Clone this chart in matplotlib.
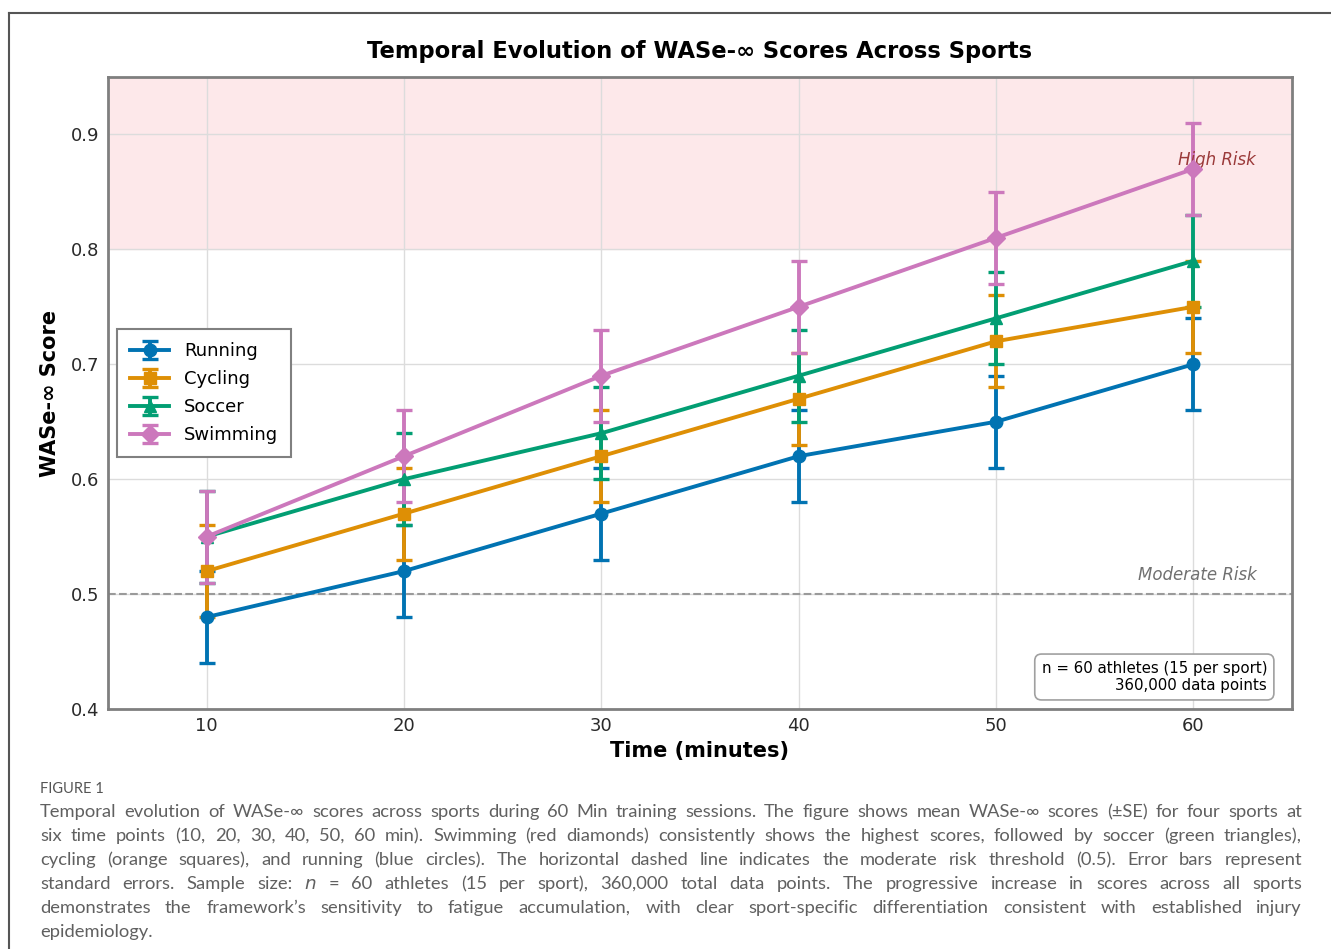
import numpy as np
import matplotlib
matplotlib.use("Agg")
import matplotlib.pyplot as plt
from matplotlib.lines import Line2D

# --- Data ---
times = [10, 20, 30, 40, 50, 60]
sports = ["Running", "Cycling", "Soccer", "Swimming"]
running = [0.48, 0.52, 0.57, 0.62, 0.65, 0.70]
cycling = [0.52, 0.57, 0.62, 0.67, 0.72, 0.75]
soccer = [0.55, 0.60, 0.64, 0.69, 0.74, 0.79]
swimming = [0.55, 0.62, 0.69, 0.75, 0.81, 0.87]
se_running = [0.04] * 6
se_cycling = [0.04] * 6
se_soccer = [0.04] * 6
se_swimming = [0.04] * 6

series = [running, cycling, soccer, swimming]
errors = [se_running, se_cycling, se_soccer, se_swimming]
colors = ["#0173b2", "#de8f05", "#029e73", "#cc78bc"]
markers = ["o", "s", "^", "D"]

caption_lines = [
    "Temporal evolution of WASe-\u221e scores across sports during 60 Min training sessions. The figure shows mean WASe-\u221e scores (\u00b1SE) for four sports at",
    "six time points (10, 20, 30, 40, 50, 60 min). Swimming (red diamonds) consistently shows the highest scores, followed by soccer (green triangles),",
    "cycling (orange squares), and running (blue circles). The horizontal dashed line indicates the moderate risk threshold (0.5). Error bars represent",
    "standard errors. Sample size: $n$ = 60 athletes (15 per sport), 360,000 total data points. The progressive increase in scores across all sports",
    "demonstrates the framework\u2019s sensitivity to fatigue accumulation, with clear sport-specific differentiation consistent with established injury",
    "epidemiology.",
]

plt.rcParams["font.family"] = "DejaVu Sans"

fig = plt.figure(figsize=(13.31, 9.49), dpi=100)
ax = fig.add_axes([108 / 1331, 1 - 709 / 949, 1184 / 1331, 632 / 949])

# risk zones
ax.axhspan(0.8, 0.95, color="#fde8ea", zorder=0)
ax.axhline(0.5, color="#9a9a9a", linestyle="--", linewidth=1.5, zorder=1)

for name, vals, err, c, m in zip(sports, series, errors, colors, markers):
    ax.errorbar(times, vals, yerr=err, color=c, marker=m, markersize=9,
                linewidth=2.8, elinewidth=2.8, capsize=6, capthick=2.4,
                label=name, zorder=3)

ax.text(61.2, 0.878, "High Risk", style="italic", color="#9b3a3a",
        fontsize=12, ha="center", va="center")
ax.text(60.2, 0.517, "Moderate Risk", style="italic", color="#707070",
        fontsize=12, ha="center", va="center")

ax.set_xlim(5, 65)
ax.set_ylim(0.4, 0.95)
ax.set_xticks(times)
ax.set_yticks([0.4, 0.5, 0.6, 0.7, 0.8, 0.9])
ax.tick_params(labelsize=13, length=0, pad=6, colors="#2a2a2a")
ax.grid(color="#dcdcdc", linewidth=1)
ax.set_axisbelow(True)
for s in ax.spines.values():
    s.set_color("#7f7f7f")
    s.set_linewidth(2)

ax.set_xlabel("Time (minutes)", fontsize=15, fontweight="bold", labelpad=4)
ax.set_ylabel("WASe-\u221e Score", fontsize=15, fontweight="bold", labelpad=8)
ax.set_title("Temporal Evolution of WASe-\u221e Scores Across Sports",
             fontsize=16.3, fontweight="bold", pad=14)

leg = ax.legend(loc="center left", bbox_to_anchor=(0.0, 0.5), fontsize=13,
                fancybox=False, edgecolor="#808080", framealpha=1,
                handlelength=2.2, borderpad=0.7, labelspacing=0.55)
leg.get_frame().set_linewidth(1.5)

ax.text(0.979, 0.025, "n = 60 athletes (15 per sport)\n360,000 data points",
        transform=ax.transAxes, ha="right", va="bottom", fontsize=10.8,
        multialignment="right",
        bbox=dict(boxstyle="round,pad=0.45", facecolor="white",
                  edgecolor="#a0a0a0", linewidth=1.2))

# page frame
fig.add_artist(Line2D([9 / 1331, 1], [1 - 13 / 949, 1 - 13 / 949],
                      transform=fig.transFigure, color="#555555", linewidth=1.5))
fig.add_artist(Line2D([9 / 1331, 9 / 1331], [1 - 13 / 949, 0],
                      transform=fig.transFigure, color="#555555", linewidth=1.5))

# caption
cap_family = "Lato"
fig.text(40 / 1331, 1 - 789 / 949, "FIGURE 1", fontsize=10.5, color="#555555",
         va="center", family=cap_family)

fig.canvas.draw()
renderer = fig.canvas.get_renderer()
x0, x1 = 40, 1302
for i, line in enumerate(caption_lines):
    y = 1 - (812 + 24 * i) / 949
    words = line.split(" ")
    kw = dict(fontsize=13.2, color="#606060", va="center", family=cap_family)
    if i == len(caption_lines) - 1:
        fig.text(x0 / 1331, y, line, **kw)
        continue
    arts = [fig.text(0, y, w, **kw) for w in words]
    widths = [a.get_window_extent(renderer).width for a in arts]
    gap = (x1 - x0 - sum(widths)) / (len(words) - 1)
    x = x0
    for a, w in zip(arts, widths):
        a.set_x(x / 1331)
        x += w + gap

fig.savefig("out.png", dpi=100)
